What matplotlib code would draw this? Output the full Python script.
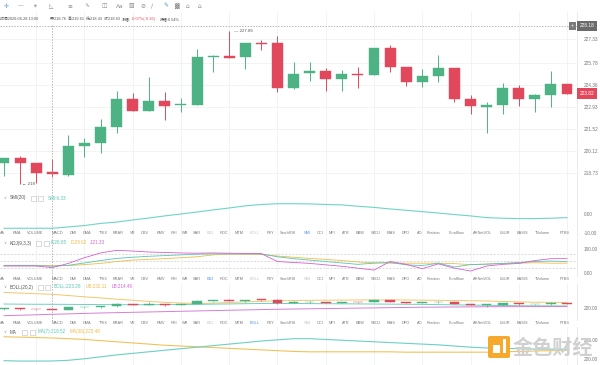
import numpy as np
import matplotlib
matplotlib.use('Agg')
import matplotlib.pyplot as plt
import matplotlib.transforms as mtransforms
from matplotlib.patches import Rectangle, FancyBboxPatch
from matplotlib.lines import Line2D

plt.rcParams['font.family'] = ['Liberation Sans', 'Noto Sans CJK SC', 'DejaVu Sans']

W, H = 600, 365

############ data ############
opens  = [219.34, 219.66, 219.37, 218.76, 218.60, 220.47, 220.62, 221.69, 223.47, 222.72,
          223.36, 223.06, 223.10, 226.20, 226.22, 226.15, 227.09, 227.05, 224.16, 225.12,
          225.27, 224.78, 225.06, 225.03, 226.73, 225.51, 224.58, 224.97, 225.45, 223.45,
          222.98, 223.09, 224.16, 223.45, 223.73, 224.42]
highs  = [219.70, 219.83, 219.37, 219.61, 221.14, 220.94, 222.17, 224.01, 223.84, 224.90,
          223.92, 223.52, 226.67, 226.30, 227.86, 227.10, 227.27, 227.54, 225.87, 225.87,
          225.45, 225.32, 225.51, 226.75, 226.94, 225.55, 225.38, 226.28, 225.47, 223.71,
          223.30, 224.52, 224.37, 223.79, 225.29, 224.45]
lows   = [218.54, 218.00, 218.05, 218.43, 218.55, 219.72, 219.98, 221.30, 222.72, 222.72,
          222.12, 222.66, 223.10, 225.19, 226.10, 225.38, 226.62, 223.94, 224.10, 224.65,
          223.99, 223.99, 224.20, 225.00, 225.23, 224.33, 224.26, 224.58, 223.30, 222.49,
          221.27, 222.51, 223.02, 222.66, 222.94, 223.80]
closes = [219.66, 219.34, 218.69, 218.63, 220.47, 220.62, 221.67, 223.47, 222.72, 223.36,
          223.04, 223.12, 226.19, 226.26, 226.13, 227.09, 227.03, 224.16, 225.08, 225.29,
          224.78, 225.06, 225.02, 226.73, 225.53, 224.58, 224.97, 225.47, 223.45, 223.00,
          223.09, 224.16, 223.45, 223.73, 224.42, 223.82]

smi = [-7.4, -7.4, -7.4, -7.4, -6.7, -6.0, -4.9, -4.2, -3.1, -2.1, -1.0, 0.0, 1.0, 2.1, 3.1,
       4.2, 4.9, 5.3, 5.3, 5.2, 4.9, 4.7, 4.0, 3.4, 2.6, 1.9, 1.2, 0.5, -0.3, -1.0, -1.9,
       -2.2, -2.4, -2.4, -2.2, -1.9]

kdj_k = [30, 30, 30, 26.85, 31, 41, 51, 60, 65, 69, 72, 75, 78, 79, 79, 79, 79, 67, 59, 53,
         47, 41, 35, 40, 43, 33, 30, 40, 24, 34, 36, 39, 43, 47, 49, 47]
kdj_d = [31, 31, 31, 29.62, 30, 34, 39, 47, 53, 56, 59, 63, 67, 75, 78, 78, 77, 70, 65, 60,
         56, 51, 45, 42, 40, 40, 40, 40, 38, 34, 36, 39, 40, 42, 40, 40]
kdj_j = [28, 28, 28, 21.33, 39, 63, 83, 94, 91, 87, 85, 83, 82, 83, 82, 81, 80, 47, 43, 39,
         33, 27, 19, 11, 47, 35, 17, 37, 19, 7, 28, 35, 39, 51, 59, 59]

boll_ub = [233.7, 233.2, 232.6, 232.11, 231.0, 229.9, 228.9, 227.8, 226.8, 225.8, 225.0, 224.4,
           224.0, 224.3, 224.9, 225.4, 225.9, 226.3, 226.6, 226.8, 226.9, 227.0, 227.1, 227.1,
           227.1, 227.1, 226.9, 226.8, 226.6, 226.4, 226.2, 225.8, 225.4, 225.1, 225.0, 224.9]
boll_mid = [223.5, 223.4, 223.3, 223.28, 223.2, 223.1, 223.0, 222.9, 222.9, 222.9, 223.0, 223.1,
            223.2, 223.4, 223.6, 223.8, 224.0, 224.0, 224.0, 223.9, 223.8, 223.7, 223.6, 223.5,
            223.4, 223.3, 223.2, 223.0, 222.8, 222.6, 222.4, 222.2, 222.0, 221.9, 221.9, 221.8]
boll_lb = [213.2, 213.6, 214.0, 214.46, 214.8, 215.2, 215.6, 215.9, 216.2, 216.5, 216.8, 217.1,
           217.4, 217.7, 218.0, 218.3, 218.6, 218.9, 219.1, 219.3, 219.5, 219.7, 219.9, 220.1,
           220.3, 220.5, 220.7, 220.8, 220.9, 221.0, 221.1, 221.2, 221.2, 221.3, 221.3, 221.3]

ma7 = [219.6, 219.5, 219.5, 219.52, 219.7, 220.1, 220.6, 221.1, 221.5, 221.9, 222.3, 222.7,
       223.1, 223.5, 223.9, 224.3, 224.7, 225.0, 225.3, 225.3, 225.1, 224.9, 224.7, 224.5,
       224.3, 224.1, 223.9, 223.7, 223.4, 223.1, 222.9, 222.8, 222.7, 222.6, 222.6, 222.6]
ma30 = [225.8, 225.7, 225.6, 225.48, 225.3, 225.1, 224.8, 224.5, 224.2, 223.9, 223.6, 223.4,
        223.2, 223.0, 222.8, 222.6, 222.4, 222.2, 222.0, 221.9, 221.9, 221.9, 221.9, 221.9,
        221.9, 221.8, 221.8, 221.8, 221.8, 221.8, 221.8, 221.9, 222.0, 222.1, 222.2, 222.3]

price_ticks = [218.73, 220.12, 221.52, 222.93, 224.36, 225.78, 227.33]
cross_idx = 3
cross_price = 228.18
last_price = 223.82

info_parts = ["时间2020-06-28 13:00", "开:218.76", "高:219.61", "低:218.43", "收:218.63",
              "涨幅:", "-0.07%(-0.16)", "振幅:0.54%"]

tabs = ["MA", "EMA", "VOLUME", "MACD", "DMI", "DMA", "TRIX", "BRAR", "VR", "OBV", "EMV", "RSI",
        "WR", "SAR", "KDJ", "ROC", "MTM", "BOLL", "PSY", "StochRSI", "SMI", "CCI", "MFI", "ATR",
        "BBW", "SKDJ", "BIAS", "DPO", "AO", "Position", "Fundflow", "AHNetVOL", "LSUR", "BASIS",
        "TVolume", "FTBS"]
tab_x = [-1, 13, 27, 52, 70, 83, 99, 113, 130, 141, 157, 171, 182, 193, 207, 220, 235, 250,
         267, 280, 304, 317, 329, 342, 356, 371, 387, 402, 417, 427, 449, 473, 500, 517, 535, 560]

############ colors ############
UP, DN = "#4db384", "#e2485c"
TEAL, ORANGE, MAGENTA = "#55c7b5", "#f0bb45", "#d760cf"
GRID = "#f1f1f1"
TXT = "#666666"

fig = plt.figure(figsize=(6, 3.65), dpi=100)


def box(top, bottom, left=0, right=577):
    return [left / W, 1 - bottom / H, (right - left) / W, (bottom - top) / H]


def ftxt(px, py, s, **kw):
    kw.setdefault('va', 'center')
    kw.setdefault('ha', 'left')
    kw.setdefault('fontsize', 3.3)
    kw.setdefault('color', TXT)
    return fig.text(px / W, 1 - py / H, s, **kw)


ax_k = fig.add_axes(box(12, 190))
ax_s = fig.add_axes(box(190, 236))
ax_j = fig.add_axes(box(238, 276))
ax_b = fig.add_axes(box(284, 320))
ax_m = fig.add_axes(box(327, 365))
axes = [ax_k, ax_s, ax_j, ax_b, ax_m]

x = np.arange(len(closes))
for ax in axes:
    ax.set_facecolor('none')
    ax.set_xlim(-0.249, 35.62)
    ax.set_xticks(np.arange(2, 36, 3))
    ax.grid(axis='x', color=GRID, lw=0.6)
    ax.tick_params(axis='x', length=0, labelbottom=False)
    ax.yaxis.tick_right()
    ax.tick_params(axis='y', length=0, pad=5, labelsize=3.4, labelcolor="#777777")
    for s in ['top', 'left', 'bottom']:
        ax.spines[s].set_visible(False)
    ax.spines['right'].set_color('#e8e8e8')
    ax.spines['right'].set_linewidth(0.6)
    ax.set_axisbelow(True)


def candles(ax, w=0.68, minh=0.06, lw=0.7):
    o, h, l, c = map(np.array, (opens, highs, lows, closes))
    col = np.where(c >= o, UP, DN)
    bottom = np.minimum(o, c)
    height = np.maximum(np.abs(c - o), minh)
    ax.vlines(x, l, h, colors=col, lw=lw, zorder=2)
    ax.bar(x, height, w, bottom=bottom, color=col, edgecolor=col, lw=0.3, zorder=3)


# main candle panel
candles(ax_k)
ax_k.set_ylim(217.62, 229.066)
ax_k.set_yticks(price_ticks)
ax_k.set_yticklabels(["%.2f" % v for v in price_ticks])
ax_k.grid(axis='y', color=GRID, lw=0.6)
ax_k.axhline(cross_price, color="#999999", lw=0.5, ls=(0, (2, 2)))
ax_k.text(14.3, highs[14], "\u2014 227.86", fontsize=3.2, color="#555555", va='center')
ax_k.text(1.1, lows[1], "\u2190 218", fontsize=3.2, color="#555555", va='center')
btr = mtransforms.blended_transform_factory(ax_k.transAxes, ax_k.transData)
ax_k.text(1.005, last_price, "%.2f" % last_price, transform=btr, fontsize=3.4, color='white',
          va='center', ha='left',
          bbox=dict(boxstyle='square,pad=0.55', fc=DN, ec='none'))
ax_k.text(1.005, cross_price, "%.2f" % cross_price, transform=btr, fontsize=3.4, color='white',
          va='center', ha='left',
          bbox=dict(boxstyle='square,pad=0.55', fc="#6b6b6b", ec='none'))
ax_k.text(0.992, cross_price, "+", transform=btr, fontsize=4, color='white', va='center',
          ha='center', bbox=dict(boxstyle='square,pad=0.3', fc="#7a7a7a", ec='none'))

# SMI
ax_s.plot(x, smi, color="#6fd4c6", lw=0.8)
ax_s.set_ylim(-11.4, 12.4)
ax_s.set_yticks([0, -10])
ax_s.set_yticklabels(["0.00", "-10.00"])

# KDJ
ax_j.plot(x, kdj_d, color=ORANGE, lw=0.6)
ax_j.plot(x, kdj_k, color=TEAL, lw=0.6)
ax_j.plot(x, kdj_j, color=MAGENTA, lw=0.6)
for lvl in (80, 50, 20):
    ax_j.axhline(lvl, color="#cccccc", lw=0.5, ls=(0, (3, 2)), zorder=0)
ax_j.set_ylim(-14, 146)
ax_j.set_yticks([100, 0])
ax_j.set_yticklabels(["100.00", "0.00"])

# BOLL
ax_b.plot(x, boll_ub, color="#f3c76a", lw=0.7)
ax_b.plot(x, boll_mid, color="#6fd0c0", lw=0.7)
ax_b.plot(x, boll_lb, color="#d77fd5", lw=0.7)
candles(ax_b, w=0.6, minh=0.5, lw=0.5)
ax_b.set_ylim(209.4, 241.2)
ax_b.set_yticks([220])
ax_b.set_yticklabels(["220.00"])

# MA
ax_m.plot(x, ma30, color="#f2c25a", lw=0.8)
ax_m.plot(x, ma7, color="#6cd0c2", lw=0.8)
ax_m.set_ylim(218.48, 228.33)
ax_m.set_yticks([225, 220])
ax_m.set_yticklabels(["225.00", "220.00"])

# crosshair vertical line
vtr = mtransforms.blended_transform_factory(ax_k.transData, fig.transFigure)
fig.add_artist(Line2D([cross_idx, cross_idx], [1 - 25 / H, 1 - 322 / H], transform=vtr,
                      color="#999999", lw=0.5, ls=(0, (2, 2))))

# toolbar
icons = ["\u271B", "\u2014", "\u2734", "\u25FA", "\u2261", "\u223F", "\u25EB", "Aa", "\u25A7",
         "\u2298", "\u2215", "\u270E", "\u2593", "\u2302", "\u2302"]
icon_x = [4, 18, 33, 49, 67, 84, 101, 116, 128, 140, 151, 163, 174, 186, 198]
for i, (s, px) in enumerate(zip(icons, icon_x)):
    ftxt(px, 6, s, fontsize=4.2, color="#4a90e2" if i in (0, 11) else "#8a8a8a",
         family=['DejaVu Sans'])

# info line
info_x = [0, 50, 68, 86, 104, 122, 132, 160]
for s, px in zip(info_parts, info_x):
    ftxt(px, 19, s, fontsize=2.8, color=DN if s.startswith("-") else "#555555")

# tab rows
rows = [(233, "SMI"), (279, "KDJ"), (323, "BOLL")]
for py, active in rows:
    for name, px in zip(tabs, tab_x):
        if name == active:
            c = "#4a90e2"
        elif name in ("SMI", "KDJ", "BOLL"):
            c = "#c4c4c4"
        else:
            c = "#7a7a7a"
        ftxt(px, py, name, fontsize=2.8, color=c)


def legend_row(py, title, box_x, items):
    ftxt(3, py, "\u2228", fontsize=3.0, color="#999999", family=['DejaVu Sans'])
    ftxt(10, py, title, fontsize=3.3, color="#555555")
    for bx in box_x:
        fig.add_artist(Rectangle((bx / W, 1 - (py + 2.5) / H), 5 / W, 5 / H,
                                 transform=fig.transFigure, fill=False, ec="#c0c0c0", lw=0.4))
    for txt, px, c in items:
        ftxt(px, py, txt, fontsize=3.3, color=c)


legend_row(198, "SMI(20)", [31, 38], [("SMI:6.33", 48, TEAL)])
legend_row(243, "KDJ(9,3,3)", [36, 44], [("K:26.85", 51, TEAL), ("D:29.62", 71, ORANGE),
                                        ("J:21.33", 90, MAGENTA)])
legend_row(287, "BOLL(20,2)", [38, 45], [("BOLL:223.28", 54, TEAL), ("UB:232.11", 86, ORANGE),
                                        ("LB:214.46", 112, MAGENTA)])
legend_row(332, "MA", [22, 30], [("MA(7):219.52", 38, TEAL), ("MA(30):225.48", 70, ORANGE)])

# watermark
fig.add_artist(FancyBboxPatch((488 / W, 1 - 358 / H), 22 / W, 22 / H,
                              boxstyle='round,pad=0,rounding_size=0.004',
                              transform=fig.transFigure, fc="#f5a623", ec='none', alpha=0.95))
fig.add_artist(Rectangle((493 / W, 1 - 353 / H), 7 / W, 8 / H, transform=fig.transFigure,
                         fc='white', ec='none'))
fig.add_artist(Rectangle((503 / W, 1 - 353 / H), 3 / W, 14 / H, transform=fig.transFigure,
                         fc='white', ec='none'))
ftxt(513, 347, "金色财经", fontsize=14.5, color="#d0d0d0", weight='bold',
     family=['Noto Sans CJK SC'])

fig.savefig("out.png", dpi=100)
